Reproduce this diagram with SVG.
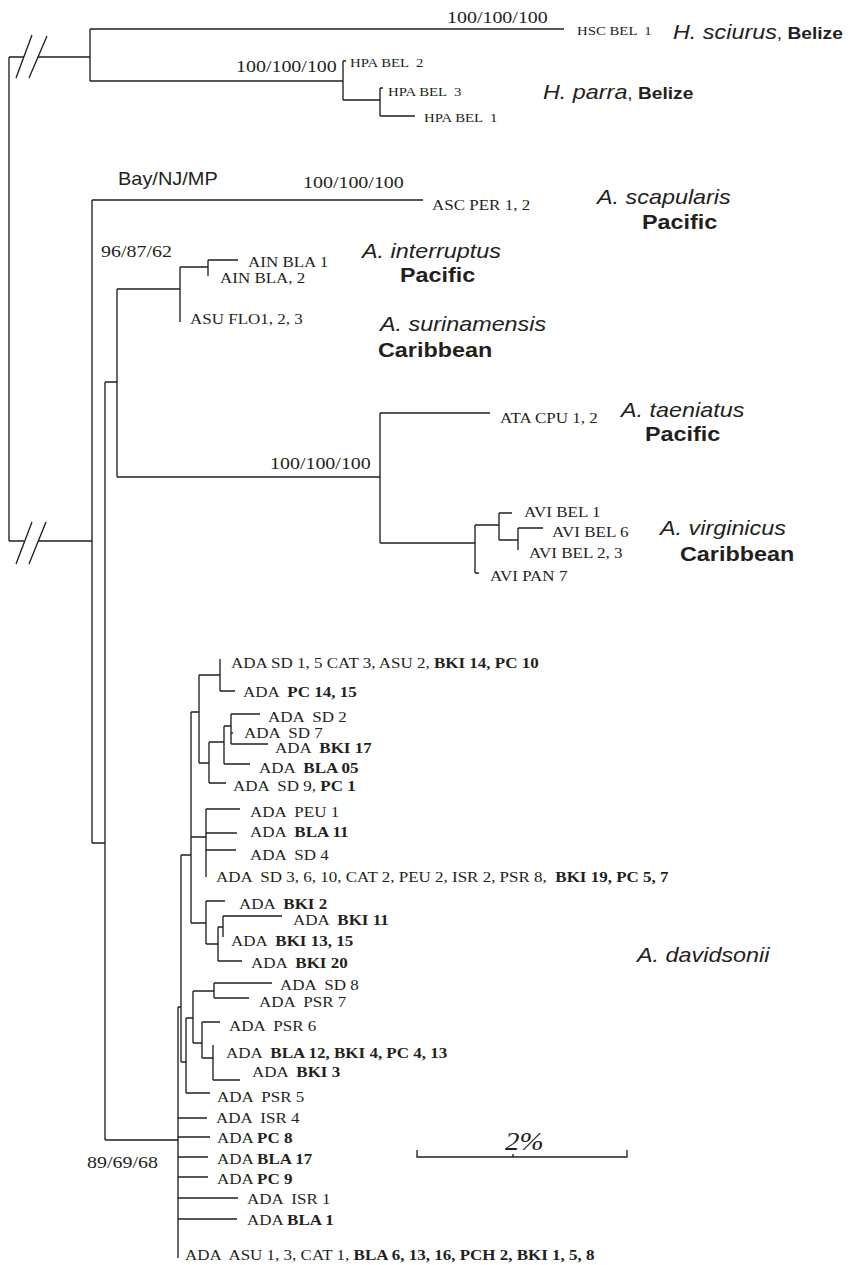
<svg xmlns="http://www.w3.org/2000/svg" width="850" height="1265" viewBox="0 0 850 1265">
<style>
.c{fill:none;stroke:#231f20;stroke-width:1.35}
text{fill:#231f20}
.lf{font-family:"Liberation Serif","Times New Roman",serif;font-size:14.9px}
.lt{font-family:"Liberation Serif","Times New Roman",serif;font-size:13px}
.bs{font-family:"Liberation Serif","Times New Roman",serif;font-size:17.5px}
.pc{font-family:"Liberation Serif","Times New Roman",serif;font-size:25.5px;font-style:italic}
.sp{font-family:"Liberation Sans",Arial,sans-serif;font-size:20.5px;font-style:italic}
.rg{font-family:"Liberation Sans",Arial,sans-serif;font-size:20.5px;font-weight:bold}
.bz{font-family:"Liberation Sans",Arial,sans-serif;font-size:16.8px;font-weight:bold}
.cm{font-family:"Liberation Sans",Arial,sans-serif;font-size:16.8px}
.ms{font-family:"Liberation Sans",Arial,sans-serif;font-size:17.5px}
.b{font-weight:bold}
</style>
<rect width="850" height="1265" fill="#fff"/>
<g id="connectors" class="c">
<path d="M9 57 V541 M9 57 H24 M38 57 H90 M90 29 V81 M90 29 H564 M90 81 H343 M343 61 V100 M343 61 H346 M343 100 H380 M380 88 V116 M380 88 H383 M380 116 H415"/>
<path d="M16 78 L32 35 M29 78 L47 36 M16 564 L32 522 M29 564 L46 522"/>
<path d="M9 541 H24 M38 541 H92 M92 200 V843 M92 200 H423 M92 843 H105 M105 382 V1140 M105 382 H117 M117 289 V477 M117 289 H180 M117 477 H380 M180 267 V322 M180 267 H208 M208 260 V276 M208 260 H238"/>
<path d="M380 413 V543 M380 413 H490 M380 543 H475 M475 525 V573 M475 573 H479 M475 525 H499 M499 513 V540 M499 513 H512 M499 540 H518 M518 528 V550 M518 528 H543"/>
<path d="M105 1140 H178 M178 1007 V1258 M178 1007 H181 M181 855 V1062 M181 855 H191 M181 1062 H186 M186 1018 V1093 M186 1018 H193 M186 1093 H210 M193 991 V1043 M193 991 H214 M193 1043 H202 M214 983 V998 M214 983 H272 M214 998 H249 M202 1022 V1058 M202 1022 H220 M202 1058 H213 M213 1045 V1080 M213 1080 H240"/>
<path d="M178 1118 H207 M178 1137 H210 M178 1157 H208 M178 1177 H208 M178 1198 H238 M178 1219 H237"/>
<path d="M191 712 V923 M191 712 H199 M191 837 H206 M191 923 H206 M199 675 V763 M199 675 H220 M199 763 H209 M220 659 V691 M220 691 H235 M209 742 V783 M209 742 H224 M209 783 H226 M224 726 V764 M224 726 H231 M224 764 H250 M231 714 V744 M231 714 H260 M231 744 H268 M231 733 H233"/>
<path d="M206 809 V877 M206 809 H240 M206 833 H237 M206 850 H236 M206 901 V944 M206 901 H225 M206 944 H218 M218 927 V961 M218 927 H223 M218 961 H242 M223 916 V937 M223 916 H282"/>
<path d="M417 1150 V1157 H627 V1150 M513 1157 V1154"/>
</g>
<g id="support">
<text class="bs" transform="translate(447 23) scale(1.14 1)">100/100/100</text>
<text class="bs" transform="translate(236 72) scale(1.14 1)">100/100/100</text>
<text class="ms" transform="translate(118 185) scale(1.14 1)">Bay/NJ/MP</text>
<text class="bs" transform="translate(303 188) scale(1.14 1)">100/100/100</text>
<text class="bs" transform="translate(101 257) scale(1.14 1)">96/87/62</text>
<text class="bs" transform="translate(270 469) scale(1.14 1)">100/100/100</text>
<text class="bs" transform="translate(87 1168) scale(1.14 1)">89/69/68</text>
</g>
<g id="scale"><text class="pc" transform="translate(505 1150) scale(1.14 1)">2%</text></g>
<g id="hsc"><text class="lt" xml:space="preserve" transform="translate(577 35) scale(1.14 1)">HSC BEL  1</text></g>
<g id="hpa2"><text class="lt" xml:space="preserve" transform="translate(350 67) scale(1.14 1)">HPA BEL  2</text></g>
<g id="hpa3"><text class="lt" xml:space="preserve" transform="translate(388 96) scale(1.14 1)">HPA BEL  3</text></g>
<g id="hpa1"><text class="lt" xml:space="preserve" transform="translate(424 122) scale(1.14 1)">HPA BEL  1</text></g>
<g id="sp-sciurus"><text transform="translate(673 39) scale(1.14 1)"><tspan class="sp">H. sciurus</tspan><tspan class="cm">, </tspan><tspan class="bz">Belize</tspan></text></g>
<g id="sp-parra"><text transform="translate(543 99) scale(1.14 1)"><tspan class="sp">H. parra</tspan><tspan class="cm">, </tspan><tspan class="bz">Belize</tspan></text></g>
<g id="asc"><text class="lf" transform="translate(432 210) scale(1.14 1)">ASC PER 1, 2</text></g>
<g id="sp-scapularis"><text class="sp" transform="translate(597 204) scale(1.14 1)">A. scapularis</text><text class="rg" transform="translate(642 229) scale(1.14 1)">Pacific</text></g>
<g id="ain1"><text class="lf" transform="translate(248 267) scale(1.14 1)">AIN BLA 1</text></g>
<g id="ain2"><text class="lf" transform="translate(220 283) scale(1.14 1)">AIN BLA, 2</text></g>
<g id="asu"><text class="lf" transform="translate(190 324) scale(1.14 1)">ASU FLO1, 2, 3</text></g>
<g id="sp-interruptus"><text class="sp" transform="translate(362 258) scale(1.14 1)">A. interruptus</text><text class="rg" transform="translate(400 282) scale(1.14 1)">Pacific</text></g>
<g id="sp-surinamensis"><text class="sp" transform="translate(380 331) scale(1.14 1)">A. surinamensis</text><text class="rg" transform="translate(378 357) scale(1.14 1)">Caribbean</text></g>
<g id="ata"><text class="lf" transform="translate(500 423) scale(1.14 1)">ATA CPU 1, 2</text></g>
<g id="sp-taeniatus"><text class="sp" transform="translate(621 417) scale(1.14 1)">A. taeniatus</text><text class="rg" transform="translate(645 441) scale(1.14 1)">Pacific</text></g>
<g id="avi1"><text class="lf" transform="translate(524 517) scale(1.14 1)">AVI BEL 1</text></g>
<g id="avi6"><text class="lf" transform="translate(552 537) scale(1.14 1)">AVI BEL 6</text></g>
<g id="avi23"><text class="lf" transform="translate(529 558) scale(1.14 1)">AVI BEL 2, 3</text></g>
<g id="avi7"><text class="lf" transform="translate(490 581) scale(1.14 1)">AVI PAN 7</text></g>
<g id="sp-virginicus"><text class="sp" transform="translate(660 535) scale(1.14 1)">A. virginicus</text><text class="rg" transform="translate(680 561) scale(1.14 1)">Caribbean</text></g>
<g id="sp-davidsonii"><text class="sp" transform="translate(637 962) scale(1.14 1)">A. davidsonii</text></g>
<g id="ada">
<g id="ada01"><text class="lf" xml:space="preserve" transform="translate(231 668) scale(1.14 1)">ADA SD 1, 5 CAT 3, ASU 2, <tspan class="b">BKI 14, PC 10</tspan></text></g>
<g id="ada02"><text class="lf" xml:space="preserve" transform="translate(243 697) scale(1.14 1)">ADA  <tspan class="b">PC 14, 15</tspan></text></g>
<g id="ada03"><text class="lf" xml:space="preserve" transform="translate(268 722) scale(1.14 1)">ADA  SD 2</text></g>
<g id="ada04"><text class="lf" xml:space="preserve" transform="translate(244 738) scale(1.14 1)">ADA  SD 7</text></g>
<g id="ada05"><text class="lf" xml:space="preserve" transform="translate(275 753) scale(1.14 1)">ADA  <tspan class="b">BKI 17</tspan></text></g>
<g id="ada06"><text class="lf" xml:space="preserve" transform="translate(259 773) scale(1.14 1)">ADA  <tspan class="b">BLA 05</tspan></text></g>
<g id="ada07"><text class="lf" xml:space="preserve" transform="translate(233 791) scale(1.14 1)">ADA  SD 9, <tspan class="b">PC 1</tspan></text></g>
<g id="ada08"><text class="lf" xml:space="preserve" transform="translate(250 817) scale(1.14 1)">ADA  PEU 1</text></g>
<g id="ada09"><text class="lf" xml:space="preserve" transform="translate(250 837) scale(1.14 1)">ADA  <tspan class="b">BLA 11</tspan></text></g>
<g id="ada10"><text class="lf" xml:space="preserve" transform="translate(250 860) scale(1.14 1)">ADA  SD 4</text></g>
<g id="ada11"><text class="lf" xml:space="preserve" transform="translate(216 882) scale(1.14 1)">ADA  SD 3, 6, 10, CAT 2, PEU 2, ISR 2, PSR 8,  <tspan class="b">BKI 19, PC 5, 7</tspan></text></g>
<g id="ada12"><text class="lf" xml:space="preserve" transform="translate(239 909) scale(1.14 1)">ADA  <tspan class="b">BKI 2</tspan></text></g>
<g id="ada13"><text class="lf" xml:space="preserve" transform="translate(293 925) scale(1.14 1)">ADA  <tspan class="b">BKI 11</tspan></text></g>
<g id="ada14"><text class="lf" xml:space="preserve" transform="translate(231 946) scale(1.14 1)">ADA  <tspan class="b">BKI 13, 15</tspan></text></g>
<g id="ada15"><text class="lf" xml:space="preserve" transform="translate(251 968) scale(1.14 1)">ADA  <tspan class="b">BKI 20</tspan></text></g>
<g id="ada16"><text class="lf" xml:space="preserve" transform="translate(280 990) scale(1.14 1)">ADA  SD 8</text></g>
<g id="ada17"><text class="lf" xml:space="preserve" transform="translate(259 1007) scale(1.14 1)">ADA  PSR 7</text></g>
<g id="ada18"><text class="lf" xml:space="preserve" transform="translate(229 1031) scale(1.14 1)">ADA  PSR 6</text></g>
<g id="ada19"><text class="lf" xml:space="preserve" transform="translate(226 1058) scale(1.14 1)">ADA  <tspan class="b">BLA 12, BKI 4, PC 4, 13</tspan></text></g>
<g id="ada20"><text class="lf" xml:space="preserve" transform="translate(252 1077) scale(1.14 1)">ADA  <tspan class="b">BKI 3</tspan></text></g>
<g id="ada21"><text class="lf" xml:space="preserve" transform="translate(217 1102) scale(1.14 1)">ADA  PSR 5</text></g>
<g id="ada22"><text class="lf" xml:space="preserve" transform="translate(216 1123) scale(1.14 1)">ADA  ISR 4</text></g>
<g id="ada23"><text class="lf" xml:space="preserve" transform="translate(217 1143) scale(1.14 1)">ADA <tspan class="b">PC 8</tspan></text></g>
<g id="ada24"><text class="lf" xml:space="preserve" transform="translate(217 1164) scale(1.14 1)">ADA <tspan class="b">BLA 17</tspan></text></g>
<g id="ada25"><text class="lf" xml:space="preserve" transform="translate(217 1184) scale(1.14 1)">ADA <tspan class="b">PC 9</tspan></text></g>
<g id="ada26"><text class="lf" xml:space="preserve" transform="translate(247 1204) scale(1.14 1)">ADA  ISR 1</text></g>
<g id="ada27"><text class="lf" xml:space="preserve" transform="translate(247 1225) scale(1.14 1)">ADA <tspan class="b">BLA 1</tspan></text></g>
<g id="ada28"><text class="lf" xml:space="preserve" transform="translate(185 1260) scale(1.14 1)">ADA  ASU 1, 3, CAT 1, <tspan class="b">BLA 6, 13, 16, PCH 2, BKI 1, 5, 8</tspan></text></g>
</g>
</svg>
